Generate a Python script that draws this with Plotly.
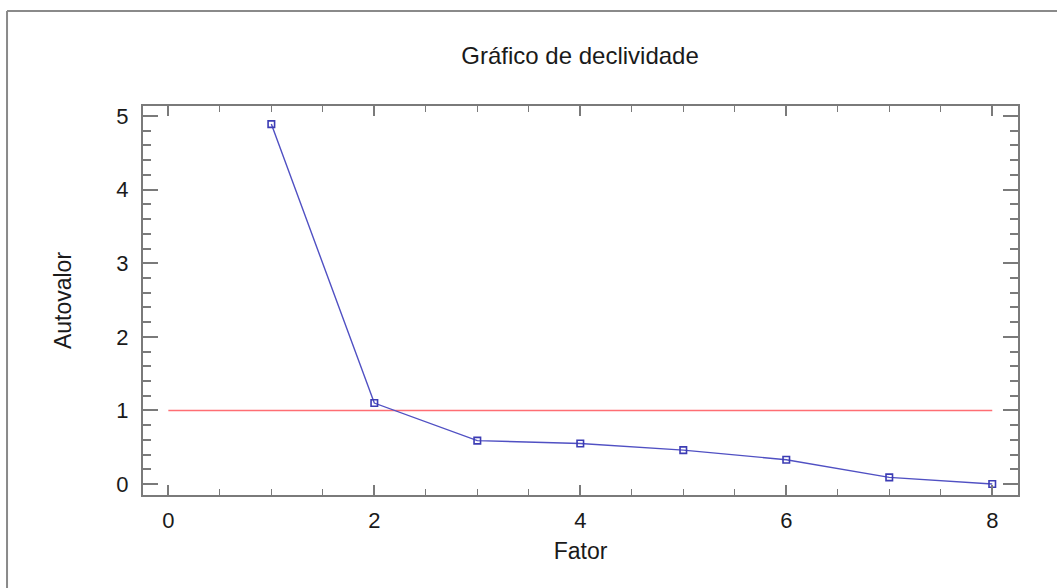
import plotly.graph_objects as go

fatores = [1, 2, 3, 4, 5, 6, 7, 8]
autovalores = [4.89, 1.10, 0.59, 0.55, 0.46, 0.33, 0.09, 0.0]
ref_x = [0, 8]
ref_y = [1, 1]

title_text = "Gráfico de declividade"
x_title = "Fator"
y_title = "Autovalor"

fig = go.Figure()
fig.add_trace(go.Scatter(
    x=ref_x, y=ref_y, mode="lines",
    line=dict(color="rgb(255,110,115)", width=1.6),
    showlegend=False, hoverinfo="skip"))
fig.add_trace(go.Scatter(
    x=fatores, y=autovalores, mode="lines+markers",
    line=dict(color="rgb(80,80,195)", width=1.4),
    marker=dict(symbol="square-open", size=6.5, color="rgb(60,60,180)", line=dict(width=1.6)),
    showlegend=False))

font_family = "Liberation Sans, Arial, sans-serif"
axis_common = dict(
    showgrid=False, zeroline=False, showline=True,
    linecolor="#7a7a7a", linewidth=2, mirror="ticks",
    ticks="inside", tickcolor="#7a7a7a", tickwidth=1.5,
    tickfont=dict(family=font_family, size=22, color="#1a1a1a"),
)

fig.update_layout(
    width=1057, height=588,
    margin=dict(l=143, r=39, t=106, b=93),
    paper_bgcolor="white", plot_bgcolor="white",
    title=dict(text=title_text, x=0.5488, xanchor="center", y=0.906, yanchor="middle",
               font=dict(family=font_family, size=24, color="#1a1a1a")),
    xaxis=dict(range=[-0.246, 8.25], tickvals=[0, 2, 4, 6, 8], ticklen=10,
               ticklabelstandoff=5,
               minor=dict(dtick=0.5, tick0=0, ticks="inside", ticklen=6,
                          tickcolor="#7a7a7a", tickwidth=1.2),
               title=dict(text=x_title, standoff=10,
                          font=dict(family=font_family, size=23, color="#1a1a1a")),
               **axis_common),
    yaxis=dict(range=[-0.149, 5.136], tickvals=[0, 1, 2, 3, 4, 5], ticklen=15,
               ticklabelstandoff=8,
               minor=dict(dtick=0.2, tick0=0, ticks="inside", ticklen=8,
                          tickcolor="#7a7a7a", tickwidth=1.5),
               title=dict(text=y_title, standoff=38,
                          font=dict(family=font_family, size=23, color="#1a1a1a")),
               **axis_common),
    shapes=[
        dict(type="line", xref="paper", yref="paper", x0=-0.1554, x1=-0.1554, y0=-0.3, y1=1.2442,
             line=dict(color="#8a8a8a", width=2)),
        dict(type="line", xref="paper", yref="paper", x0=-0.1554, x1=1.1, y0=1.2442, y1=1.2442,
             line=dict(color="#8a8a8a", width=2)),
    ],
)

fig.write_html("out.html")
